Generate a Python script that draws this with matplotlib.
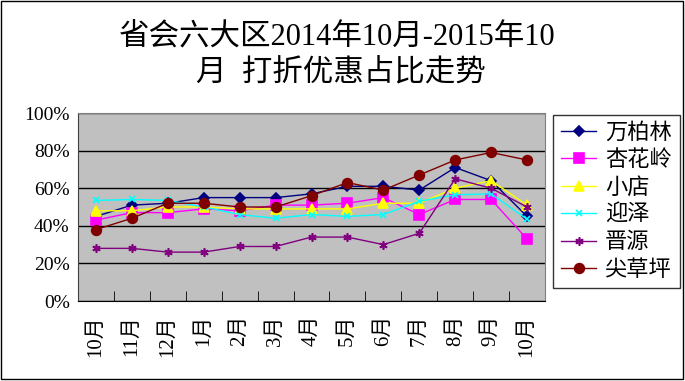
import matplotlib
matplotlib.use("Agg")
import matplotlib.pyplot as plt
from matplotlib.patches import Rectangle
from matplotlib.ticker import FixedLocator, PercentFormatter

plt.rcParams['font.family'] = ['Liberation Serif', 'Noto Sans CJK SC', 'DejaVu Sans']

months = ['10月', '11月', '12月', '1月', '2月', '3月', '4月', '5月', '6月', '7月', '8月', '9月', '10月']

wanbailin = [45, 51, 52, 55, 55, 55, 57, 61, 61, 59, 71, 64, 45]
xinghualing = [43, 47, 47, 49, 48, 51, 51, 52, 55, 46, 54, 54, 33]
xiaodian = [48, 48, 50, 50, 49, 49, 49, 49, 52, 52, 60, 64, 51]
yingze = [53.5, 54, 53.5, 50, 46, 44, 46, 45, 46, 53, 56.5, 57, 43.5]
jinyuan = [28, 28, 26, 26, 29, 29, 34, 34, 30, 36, 65, 60, 50]
jiancaoping = [38, 44, 52, 52, 50, 50, 56, 63, 59, 67, 75, 79, 75]

series = [
    ('万柏林', wanbailin, '#000080', 'D', 5),
    ('杏花岭', xinghualing, '#FF00FF', 's', 7),
    ('小店', xiaodian, '#FFFF00', '^', 7),
    ('迎泽', yingze, '#00FFFF', 'x', 5),
    ('晋源', jinyuan, '#800080', (6, 2, 0), 6),
    ('尖草坪', jiancaoping, '#800000', 'o', 7),
]

fig = plt.figure(figsize=(6.85, 3.81), dpi=100)
ax = fig.add_axes([78/685, 80/381, (545-78)/685, (301-113)/381])
ax.set_facecolor('#C0C0C0')

x = list(range(len(months)))
for name, vals, col, mk, ms in series:
    ax.plot(x, vals, color=col, marker=mk, markersize=ms, linewidth=1,
            markeredgecolor=col, markerfacecolor=col, markeredgewidth=1.2,
            label=name, zorder=3)

ax.set_xlim(-0.5, len(months) - 0.5)
ax.set_ylim(0, 100)
ax.yaxis.set_major_locator(FixedLocator([0, 20, 40, 60, 80, 100]))
ax.yaxis.set_major_formatter(PercentFormatter(decimals=0))
ax.grid(axis='y', color='black', linewidth=1)
ax.set_axisbelow(True)

ax.set_xticks(x)
ax.set_xticklabels(months, rotation=90, fontsize=15)
ax.xaxis.set_minor_locator(FixedLocator([i + 0.5 for i in range(len(months) - 1)]))
ax.tick_params(axis='x', which='major', length=0, pad=10)
ax.tick_params(axis='x', which='minor', direction='in', length=7, color='black')
ax.tick_params(axis='y', length=0, labelsize=14, pad=6)

for s in ['top', 'right']:
    ax.spines[s].set_color('#808080')
ax.spines['left'].set_color('#404040')
ax.spines['bottom'].set_color('black')

fig.text(0.492, 0.902, '省会六大区2014年10月-2015年10', ha='center', va='center', fontsize=22)
fig.text(0.497, 0.808, '月  打折优惠占比走势', ha='center', va='center', fontsize=22)

leg = ax.legend(loc='upper left', bbox_to_anchor=(553/685, (381-115)/381), bbox_transform=fig.transFigure,
                fontsize=16, frameon=True, fancybox=False, edgecolor='black',
                handlelength=1.6, labelspacing=0.3, borderpad=0.35, handletextpad=0.4,
                borderaxespad=0)
leg.get_frame().set_linewidth(1)
leg.get_frame().set_facecolor('white')

fig.patches.append(Rectangle((0.002, 0.004), 0.995, 0.993, transform=fig.transFigure,
                             fill=False, edgecolor='black', linewidth=1))

fig.savefig('out.png', dpi=100)
